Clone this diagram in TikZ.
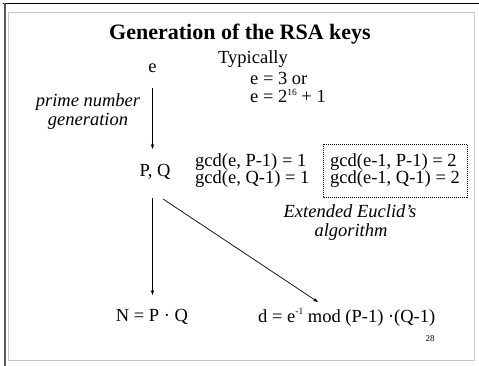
\documentclass[tikz,border=0pt]{standalone}
\usepackage{fontspec}
\setmainfont{Liberation Serif}
\usetikzlibrary{arrows.meta,calc}
\newcommand{\supx}[1]{\raisebox{0.42em}{\fontsize{9.5}{10}\selectfont #1}}
\begin{document}
\begin{tikzpicture}[x=1pt,y=1pt,
  txt/.style={inner sep=0pt,font=\fontsize{18.5}{20}\selectfont},
  itx/.style={inner sep=0pt,font=\fontsize{18.5}{20}\selectfont\itshape},
  arr/.style={line width=0.7pt,-{Stealth[length=5pt,width=3.5pt]}}]
\useasboundingbox (0,0) rectangle (479,366);
% frame
\draw[line width=1.3pt,black] (3,362.5) -- (479,362.5);
\draw[line width=2pt,black!65] (5,363) -- (5,0);
\draw[line width=0.9pt,black!22] (8.5,354) rectangle (474,5.5);
% title
\node[inner sep=0pt,font=\fontsize{22}{24}\selectfont\bfseries] (title) at (240,332) {Generation of the RSA keys};
% texts
\node[txt] (e) at (152.5,298) {e};
\node[txt,anchor=base west] (typ) at (218,302) {Typically};
\node[txt,anchor=base west] (e3) at (250,281) {e = 3 or};
\node[txt,anchor=base west] (e16) at (250,263) {e = 2\supx{16} + 1};
\node[itx] (pn) at (88,264) {prime number};
\node[itx] (gen) at (88,245) {generation};
\node[txt] (PQ) at (155,194) {P, Q};
\node[txt,anchor=base west] (g1) at (195,199) {gcd(e, P-1) = 1};
\node[txt,anchor=base west] (g2) at (195,182) {gcd(e, Q-1) = 1};
\node[txt,anchor=base west] (h1) at (330,199) {gcd(e-1, P-1) = 2};
\node[txt,anchor=base west] (h2) at (330,182) {gcd(e-1, Q-1) = 2};
\draw[line width=0.6pt,dash pattern=on 1pt off 1pt] (323,222) rectangle (467,169);
\node[itx] (ee) at (350,155) {Extended Euclid's};
\node[itx] (alg) at (351,134) {algorithm};
\node[txt] (N) at (152,49) {N = P · Q};
\node[txt,anchor=west] (d) at (258,49) {d = e\supx{-1} mod (P-1) ·(Q-1)};
\node[inner sep=0pt,font=\fontsize{9}{10}\selectfont] (pg) at (430,27) {28};
% arrows
\draw[arr] ($(e.center |- e.center)+(0,-20)$) -- ($(e.center |- PQ.center)+(0,23)$);
\draw[arr] ($(e.center |- PQ.center)+(0,-26)$) -- ($(e.center |- N.center)+(0,22)$);
\draw[arr] ([xshift=8pt,yshift=-27pt]PQ.center) -- ([xshift=60pt,yshift=15pt]d.west);
\end{tikzpicture}
\end{document}
